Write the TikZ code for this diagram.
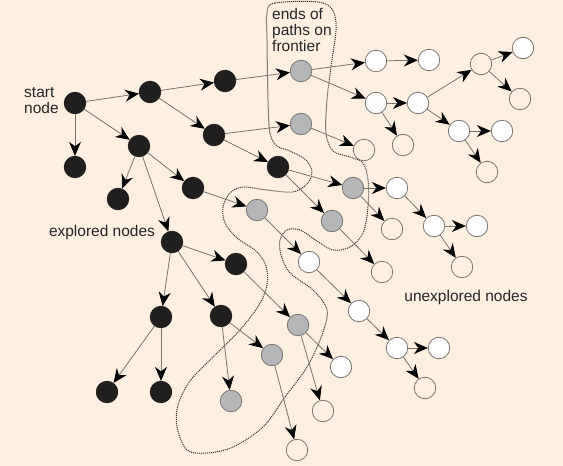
\documentclass[tikz,border=0pt]{standalone}
\usepackage{fontspec}
\setmainfont{Liberation Sans}
\usetikzlibrary{arrows.meta}
\definecolor{bg}{RGB}{253,240,225}
\definecolor{edgegray}{RGB}{120,115,110}
\definecolor{frontgray}{RGB}{181,182,184}
\definecolor{nodeblack}{RGB}{33,30,30}
\definecolor{ringgray}{RGB}{120,117,113}
\definecolor{dotgray}{RGB}{60,56,52}
\begin{document}
\begin{tikzpicture}[x=1pt,y=-1pt,
  basec/.style={circle, inner sep=0pt, minimum size=21.5pt, line width=0.8pt},
  expl/.style={basec, fill=nodeblack, draw=nodeblack},
  front/.style={basec, fill=frontgray, draw=ringgray},
  unexp/.style={basec, fill=white, draw=ringgray},
  openc/.style={basec, fill=bg, draw=ringgray},
  link/.style={draw=edgegray, line width=0.8pt, -{Stealth[length=14pt,width=12pt,inset=4.5pt,color=black]}},
  lbl/.style={font=\fontsize{15.5}{16}\selectfont, inner sep=0pt, text=black!85, align=left},
  frontier/.style={draw=dotgray, line width=1pt, dash pattern=on 1.1pt off 0.9pt}]
\fill[bg] (0,0) rectangle (563,466);
\useasboundingbox (0,0) rectangle (563,466);

% frontier boundary
\draw[frontier] plot[smooth cycle, tension=0.55] coordinates {
 (267,13) (275,3) (323,3) (336,22) (331,67) (327,100) (326,133) (333,151)
 (350,157) (363,163) (368,180) (368,207) (363,233) (350,247) (333,250)
 (317,241) (300,230) (287,230) (280,240) (281,255) (290,273) (313,290)
 (327,310) (322,335) (307,367) (285,397) (263,427) (233,447) (207,453)
 (187,450) (177,427) (178,405) (190,381) (212,358) (240,330) (259,305)
 (267,285) (266,266) (256,251) (237,238) (225,223) (223,207) (230,193)
 (243,187) (267,190) (293,192) (307,184) (312,172) (306,160) (290,151)
 (277,146) (270,133) (268,100) (267,40)};

% explored nodes
\node[expl] (S) at (75,103) {};
\node[expl] (A) at (75,167) {};
\node[expl] (B) at (150,92) {};
\node[expl] (C) at (225,81) {};
\node[expl] (D) at (214,135) {};
\node[expl] (E) at (278,167) {};
\node[expl] (F) at (139,146) {};
\node[expl] (G) at (118,199) {};
\node[expl] (H) at (193,188) {};
\node[expl] (J) at (172,242) {};
\node[expl] (K) at (236,264) {};
\node[expl] (L) at (161,317) {};
\node[expl] (M) at (221,316) {};
\node[expl] (N) at (107,392) {};
\node[expl] (O) at (161,392) {};

% frontier nodes
\node[front] (G1) at (301,71) {};
\node[front] (G2) at (301,124) {};
\node[front] (G3) at (353,188) {};
\node[front] (G4) at (332,221) {};
\node[front] (I) at (257,210) {};
\node[front] (R) at (298,325) {};
\node[front] (Q) at (272,355) {};
\node[front] (P) at (231,401) {};

% unexplored nodes
\node[unexp] (W1) at (376,61) {};
\node[unexp] (W2) at (429,60) {};
\node[unexp] (W3) at (376,103) {};
\node[unexp] (W4) at (418,103) {};
\node[openc] (W5) at (403,145) {};
\node[openc] (W6) at (481,64) {};
\node[unexp] (W7) at (523,48) {};
\node[openc] (W8) at (520,99) {};
\node[unexp] (W9) at (459,131) {};
\node[unexp] (W10) at (502,131) {};
\node[openc] (W11) at (487,172) {};
\node[openc] (W12) at (364,150) {};
\node[unexp] (W13) at (397,188) {};
\node[openc] (W14) at (392,229) {};
\node[unexp] (W15) at (434,226) {};
\node[unexp] (W16) at (477,226) {};
\node[openc] (W17) at (462,267) {};
\node[openc] (W18) at (382,272) {};
\node[unexp] (W19) at (309,262) {};
\node[unexp] (W20) at (359,311) {};
\node[unexp] (W21) at (397,348) {};
\node[unexp] (W22) at (439,348) {};
\node[openc] (W23) at (425,388) {};
\node[unexp] (W24) at (341,367) {};
\node[openc] (W25) at (323,411) {};
\node[openc] (W26) at (297,450) {};

% connectors
\foreach \a/\b in {S/B, S/A, S/F, B/C, B/D, C/G1, D/G2, D/E, F/G, F/H, F/J, H/I,
  G1/W1, G1/W3, W1/W2, W3/W4, W3/W5, W4/W6, W4/W9, W6/W7, W6/W8, W9/W10, W9/W11,
  G2/W12, E/G3, E/G4, G3/W13, G3/W14, W13/W15, W15/W16, W15/W17, G4/W18,
  I/W19, W19/W20, W20/W21, W21/W22, W21/W23, J/K, J/L, J/M, K/R, L/N, L/O,
  M/P, M/Q, R/W24, R/W25, Q/W26}
  \draw[link] (\a) -- (\b);

% labels
\node[lbl, anchor=west] (startlbl) at (24,101) {start\\node};
\node[lbl, anchor=north west] (endslbl) at (272,8) {\fontsize{15.5}{18}\selectfont ends of\\paths on\\frontier};
\node[lbl, anchor=center] (explbl) at (102,232) {explored nodes};
\node[lbl, anchor=center] (unexplbl) at (466,297) {unexplored nodes};
\end{tikzpicture}
\end{document}
